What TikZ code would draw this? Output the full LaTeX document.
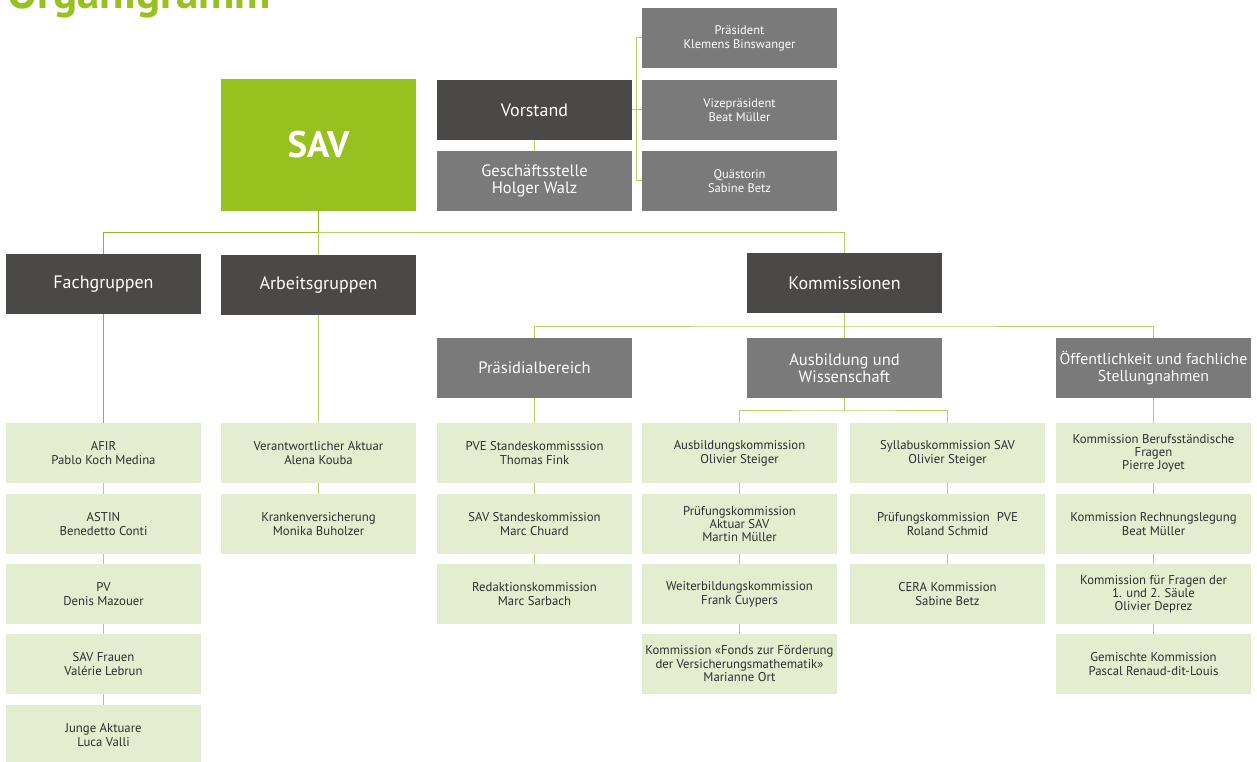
\documentclass[tikz,border=0pt]{standalone}
\usepackage{fontspec}
\setmainfont{PT Sans}
\definecolor{savgreen}{HTML}{96C11E}
\definecolor{darkb}{HTML}{4A4947}
\definecolor{grayb}{HTML}{7A7A7A}
\definecolor{lightg}{HTML}{E4EDCF}
\definecolor{textd}{HTML}{2E2E2E}
\definecolor{lined}{HTML}{8CBD1E}
\definecolor{linel}{HTML}{B2D35F}
\begin{document}
\begin{tikzpicture}[x=1pt,y=-1pt,
  box/.style={rectangle, inner sep=0pt, minimum width=195pt, minimum height=60pt, align=center},
  lbox/.style={box, fill=lightg, text=textd, font=\fontsize{12.75}{14}\selectfont},
  gbox/.style={box, fill=grayb, text=white, font=\fontsize{16.5}{16.5}\selectfont},
  sbox/.style={box, fill=grayb, text=white, font=\fontsize{12.5}{14}\selectfont},
  dbox/.style={box, fill=darkb, text=white, font=\fontsize{18}{18}\selectfont},
  conn/.style={draw=linel, line width=1pt},
  connd/.style={draw=lined, line width=1pt}]
\useasboundingbox (0,0) rectangle (1257,762);
\node[anchor=base west, inner sep=0pt, text=savgreen, font=\fontsize{45}{45}\bfseries\selectfont] (title) at (7,9) {Organigramm};

% top
\node[box, fill=savgreen, text=white, minimum height=132pt, font=\fontsize{37}{37}\bfseries\selectfont] (sav) at (318.5,145) {SAV};
\node[dbox] (vor) at (534.5,110) {Vorstand};
\node[gbox] (ges) at (534.5,181) {Geschäftsstelle\\Holger Walz};
\node[sbox] (pra) at (739.5,38) {Präsident\\Klemens Binswanger};
\node[sbox] (viz) at (739.5,110) {Vizepräsident\\Beat Müller};
\node[sbox] (qua) at (739.5,181) {Quästorin\\Sabine Betz};

% second level
\node[dbox] (fach) at (103.5,284) {Fachgruppen};
\node[dbox] (arb) at (318.5,285) {Arbeitsgruppen};
\node[dbox] (kom) at (844.5,283) {Kommissionen};
\node[gbox] (prb) at (534.5,368) {Präsidialbereich};
\node[gbox] (aus) at (844.5,368) {Ausbildung und\\Wissenschaft};
\node[gbox, font=\fontsize{15.8}{16.5}\selectfont] (oef) at (1153.5,368) {Öffentlichkeit und fachliche\\Stellungnahmen};

% column A
\node[lbox] (a1) at (103.5,453) {AFIR\\Pablo Koch Medina};
\node[lbox] (a2) at (103.5,524) {ASTIN\\Benedetto Conti};
\node[lbox] (a3) at (103.5,594) {PV\\Denis Mazouer};
\node[lbox] (a4) at (103.5,664) {SAV Frauen\\Valérie Lebrun};
\node[lbox] (a5) at (103.5,735) {Junge Aktuare\\Luca Valli};
% column B
\node[lbox] (b1) at (318.5,453) {Verantwortlicher Aktuar\\Alena Kouba};
\node[lbox] (b2) at (318.5,524) {Krankenversicherung\\Monika Buholzer};
% column C
\node[lbox] (c1) at (534.5,453) {PVE Standeskommisssion\\Thomas Fink};
\node[lbox] (c2) at (534.5,524) {SAV Standeskommission\\Marc Chuard};
\node[lbox] (c3) at (534.5,594) {Redaktionskommission\\Marc Sarbach};
% column D
\node[lbox] (d1) at (739.5,453) {Ausbildungskommission\\Olivier Steiger};
\node[lbox, font=\fontsize{12.75}{12.75}\selectfont] (d2) at (739.5,524) {Prüfungskommission\\Aktuar SAV\\Martin Müller};
\node[lbox] (d3) at (739.5,594) {Weiterbildungskommission\\Frank Cuypers};
\node[lbox, font=\fontsize{12.75}{13.5}\selectfont] (d4) at (739.5,664) {Kommission «Fonds zur Förderung\\der Versicherungsmathematik»\\Marianne Ort};
% column E
\node[lbox] (e1) at (947.5,453) {Syllabuskommission SAV\\Olivier Steiger};
\node[lbox] (e2) at (947.5,524) {Prüfungskommission~~PVE\\Roland Schmid};
\node[lbox] (e3) at (947.5,594) {CERA Kommission\\Sabine Betz};
% column F
\node[lbox, font=\fontsize{12.75}{13}\selectfont] (f1) at (1153.5,453) {Kommission Berufsständische\\Fragen\\Pierre Joyet};
\node[lbox] (f2) at (1153.5,524) {Kommission Rechnungslegung\\Beat Müller};
\node[lbox, font=\fontsize{12.75}{13}\selectfont] (f3) at (1153.5,594) {Kommission für Fragen der\\1. und 2. Säule\\Olivier Deprez};
\node[lbox] (f4) at (1153.5,664) {Gemischte Kommission\\Pascal Renaud-dit-Louis};

% connectors top
\draw[conn] (vor.east) -- (viz.west);
\draw[conn] (pra.west) -- ++(-5,0) |- (qua.west);
\draw[conn] (vor.south) -- (ges.north);

\coordinate (j1) at (318.5,232);
\draw[connd] (sav.south) -- (j1);
\draw[connd] (fach.north) |- (j1);
\draw[conn] (j1) -| (kom.north);
\draw[conn] (j1) -- (arb.north);

\coordinate (j2) at (844.5,326);
\draw[conn] (kom.south) -- (aus.north);
\draw[conn] (prb.north) |- (j2) -| (oef.north);

\coordinate (j3) at (844.5,410);
\draw[conn] (aus.south) -- (j3);
\draw[conn] (d1.north) |- (j3) -| (e1.north);

% column connectors
\draw[connd] (fach.south) -- (a1.north);
\draw[conn] (a1) -- (a2) (a2) -- (a3) (a3) -- (a4) (a4) -- (a5);
\draw[conn] (arb.south) -- (b1.north);
\draw[conn] (b1) -- (b2);
\draw[conn] (prb.south) -- (c1.north);
\draw[conn] (c1) -- (c2) (c2) -- (c3);
\draw[conn] (d1) -- (d2) (d2) -- (d3) (d3) -- (d4);
\draw[conn] (e1) -- (e2) (e2) -- (e3);
\draw[conn] (oef.south) -- (f1.north);
\draw[conn] (f1) -- (f2) (f2) -- (f3) (f3) -- (f4);
\end{tikzpicture}
\end{document}
